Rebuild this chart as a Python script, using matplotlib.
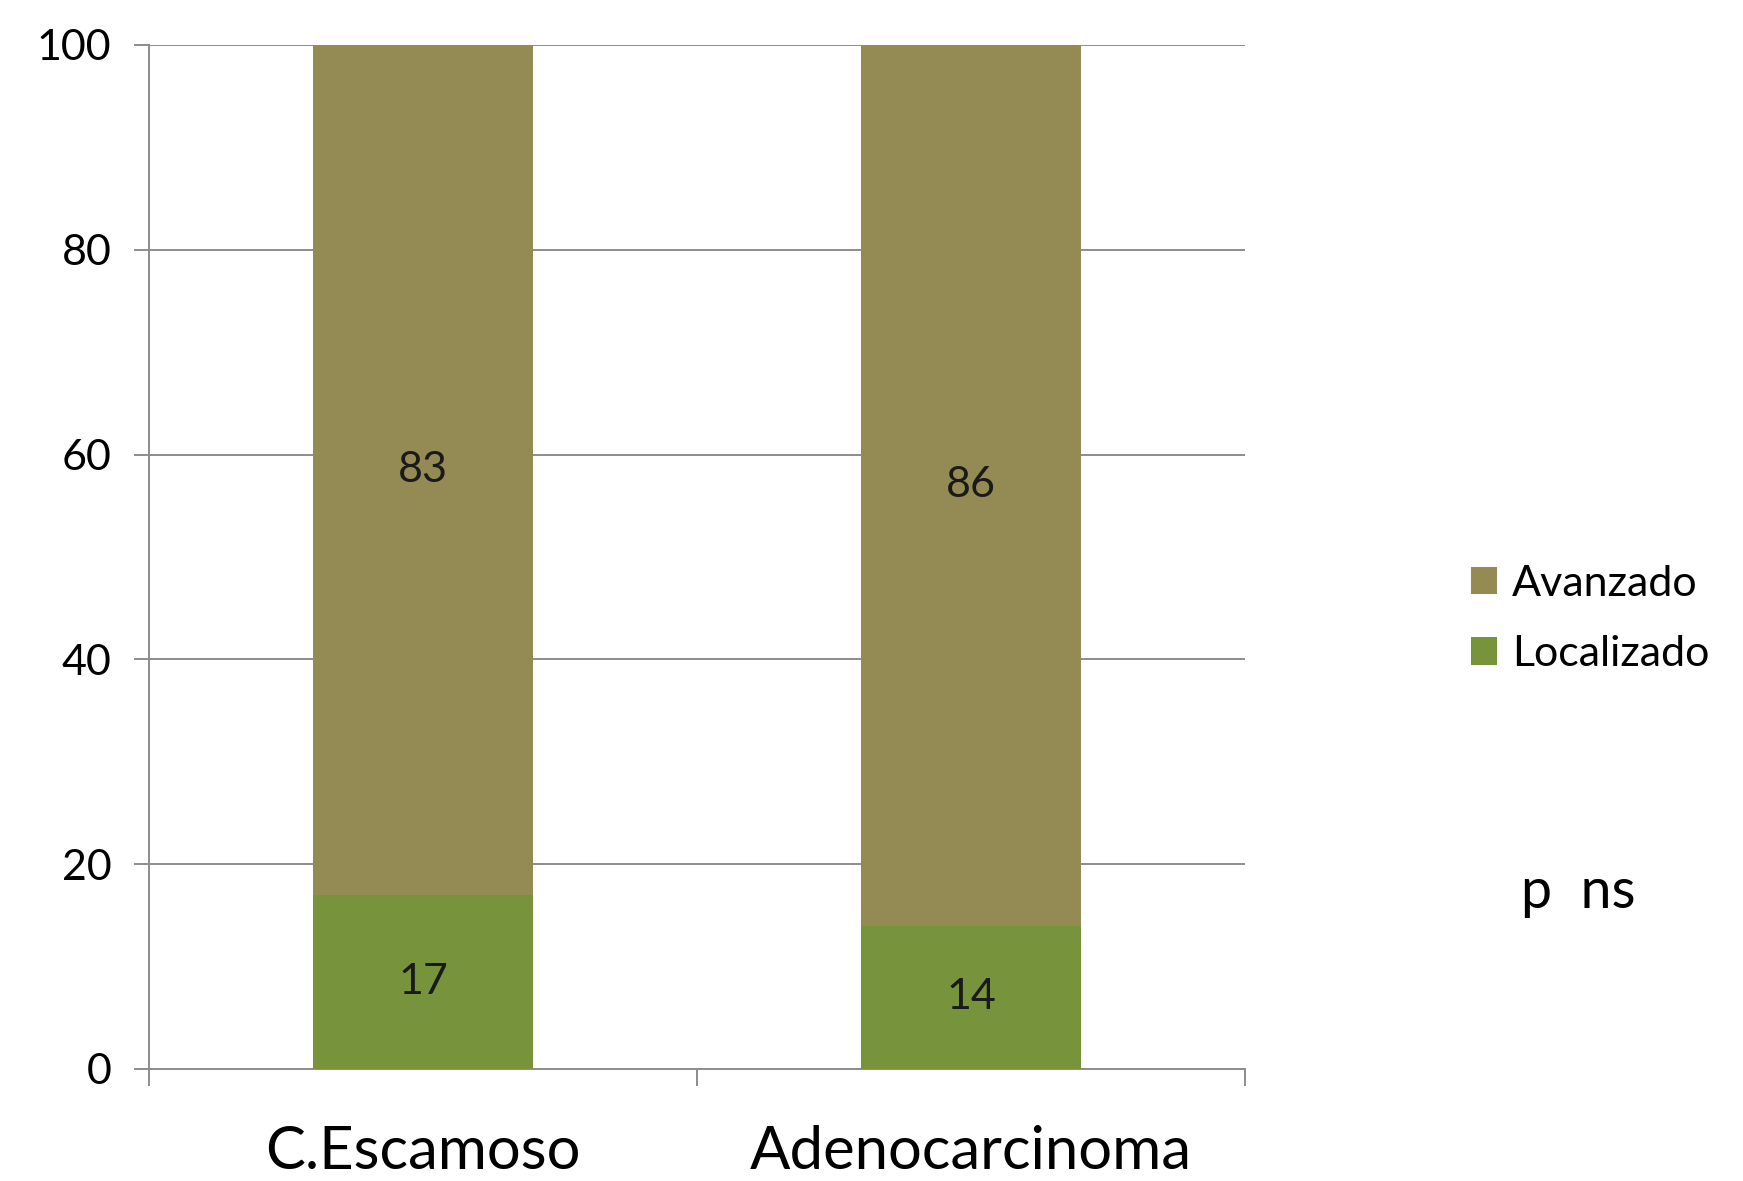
import matplotlib
matplotlib.use('Agg')
import numpy as np
import matplotlib.pyplot as plt

# datos del grafico
categorias = ['C.Escamoso', 'Adenocarcinoma']
localizado = [17, 14]
avanzado = [83, 86]
yticks = [0, 20, 40, 60, 80, 100]

plt.rcParams['font.family'] = ['Lato', 'DejaVu Sans']

fig = plt.figure(figsize=(17.43, 11.81), dpi=100)
ax = fig.add_axes([149/1743, 1 - 1069/1181, (1245 - 149)/1743, (1069 - 45)/1181])

x = np.arange(len(categorias))
b1 = ax.bar(x, localizado, width=0.4, color='#77933C', label='Localizado', zorder=3)
b2 = ax.bar(x, avanzado, width=0.4, bottom=localizado, color='#948A54', label='Avanzado', zorder=3)

# etiquetas dentro de las barras
for i in range(len(categorias)):
    ax.text(x[i], localizado[i] / 2, str(localizado[i]), ha='center', va='center', fontsize=31, color='#1a1a1a', zorder=4)
    ax.text(x[i], localizado[i] + avanzado[i] / 2, str(avanzado[i]), ha='center', va='center', fontsize=31, color='#1a1a1a', zorder=4)

ax.set_xlim(-0.5, len(categorias) - 0.5)
ax.set_ylim(0, 100)
ax.set_yticks(yticks)
ax.yaxis.grid(True, color='#8c8c8c', linewidth=1.4, zorder=0)

for s in ['top', 'right']:
    ax.spines[s].set_visible(False)
ax.spines['left'].set_color('#8c8c8c')
ax.spines['bottom'].set_color('#8c8c8c')
ax.spines['left'].set_linewidth(1.4)
ax.spines['bottom'].set_linewidth(1.4)

ax.set_xticks(x)
ax.set_xticklabels(categorias, fontsize=43)
ax.set_xticks([-0.5, 0.5, 1.5], minor=True)
ax.tick_params(axis='x', which='major', length=0, pad=40)
ax.tick_params(axis='x', which='minor', length=12, width=1.4, color='#8c8c8c')
ax.tick_params(axis='y', length=11, width=1.4, color='#8c8c8c', labelsize=31, pad=16)

fig.legend(handles=[b2, b1], labels=['Avanzado', 'Localizado'], loc='center left',
           bbox_to_anchor=(1432/1743, 1 - 619/1181), frameon=False, fontsize=31,
           handlelength=0.6, handleheight=0.6, handletextpad=0.35, labelspacing=0.75)

fig.text(1521/1743, 1 - 893/1181, 'p  ns', fontsize=40, ha='left', va='center')

fig.savefig('out.png', dpi=100)
